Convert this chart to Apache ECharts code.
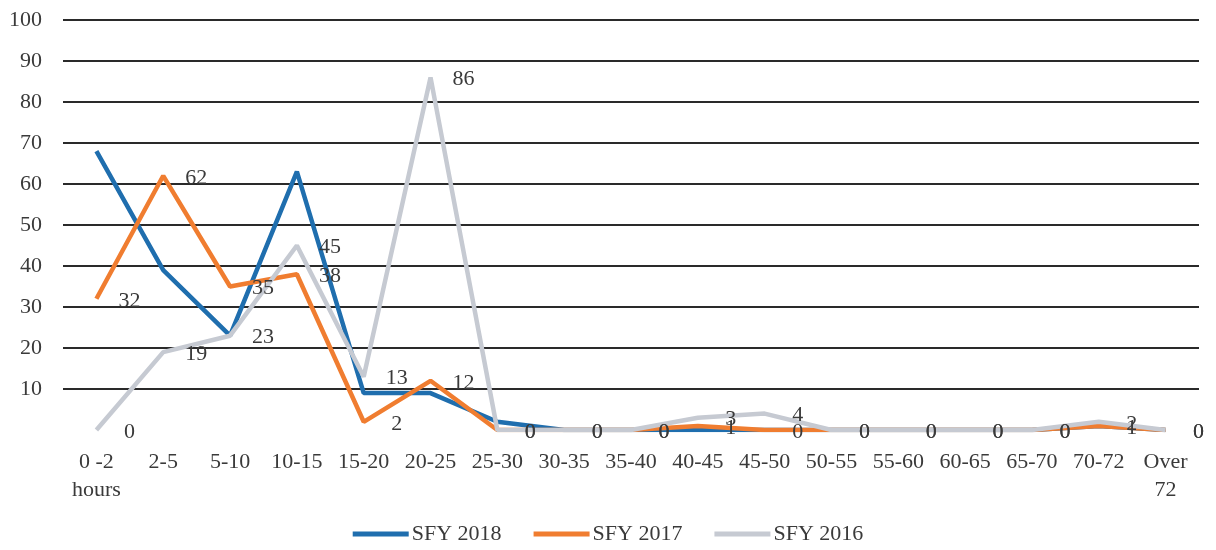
<!DOCTYPE html>
<html>
<head>
<meta charset="utf-8">
<script src="https://cdn.jsdelivr.net/npm/echarts@6/dist/echarts.min.js"></script>
<style>html,body{margin:0;padding:0;background:#fff}#c{width:1216px;height:550px}</style>
</head>
<body>
<div id="c"></div>
<script>
const categories = ["0 -2\nhours","2-5","5-10","10-15","15-20","20-25","25-30","30-35","35-40","40-45","45-50","50-55","55-60","60-65","65-70","70-72","Over\n72"];
const sfy2018 = [68,39,23,63,9,9,2,0,0,0,0,0,0,0,0,1,0];
const sfy2017 = [32,62,35,38,2,12,0,0,0,1,0,0,0,0,0,1,0];
const sfy2016 = [0,19,23,45,13,86,0,0,0,3,4,0,0,0,0,2,0];
const yTicks = [0,10,20,30,40,50,60,70,80,90,100];

const FONT = '"Liberation Serif", "DejaVu Serif", serif';
const TXT = '#3a3a3a';
const chart = echarts.init(document.getElementById('c'));
const lbl = {show:true, position:'inside', offset:[33,2], align:'center', verticalAlign:'middle',
  fontFamily:FONT, fontSize:22, color:TXT};
const gridColors = yTicks.map(v => v === 0 ? 'rgba(0,0,0,0)' : '#2a2a2a');
chart.setOption({
  animation:false,
  grid:{left:63, right:17, top:20, bottom:120, containLabel:false},
  legend:{
    bottom:0, left:'center', itemWidth:56, itemHeight:5, itemGap:32,
    textStyle:{fontFamily:FONT, fontSize:22, color:TXT, padding:[0,0,0,-2]},
    icon:'rect',
    data:['SFY 2018','SFY 2017','SFY 2016']
  },
  xAxis:{
    type:'category', data:categories, boundaryGap:true,
    axisLine:{show:false}, axisTick:{show:false},
    axisLabel:{fontFamily:FONT, fontSize:22, color:TXT, margin:18, lineHeight:28, interval:0}
  },
  yAxis:{
    type:'value', min:yTicks[0], max:yTicks[yTicks.length-1], interval:10,
    axisLine:{show:false}, axisTick:{show:false},
    axisLabel:{fontFamily:FONT, fontSize:22, color:TXT, margin:21,
      formatter:v=> v===0 ? '' : String(v)},
    splitLine:{show:true, lineStyle:{color:gridColors, width:2}},
  },
  series:[
    {name:'SFY 2018', type:'line', data:sfy2018, symbol:'circle', symbolSize:0, showSymbol:true,
      lineStyle:{color:'#1f6eae', width:4.5}, itemStyle:{color:'#1f6eae'}},
    {name:'SFY 2017', type:'line', data:sfy2017, symbol:'circle', symbolSize:0, showSymbol:true,
      lineStyle:{color:'#f07d30', width:4.5}, itemStyle:{color:'#f07d30'}, label:lbl},
    {name:'SFY 2016', type:'line', data:sfy2016, symbol:'circle', symbolSize:0, showSymbol:true,
      lineStyle:{color:'#c6cad2', width:4.5}, itemStyle:{color:'#c6cad2'}, label:lbl}
  ]
});
</script>
</body>
</html>
